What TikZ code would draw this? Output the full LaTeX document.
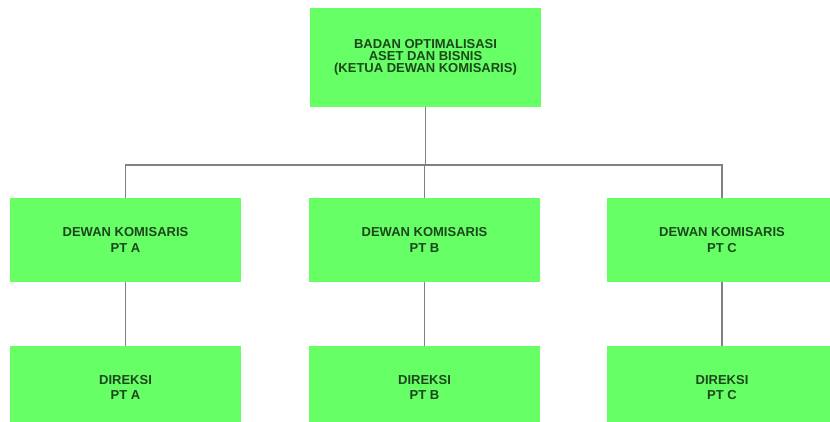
\documentclass[tikz,border=0pt]{standalone}
\usepackage{fontspec}
\setmainfont{Liberation Sans}
\begin{document}
\begin{tikzpicture}[x=1pt,y=1pt,
  box/.style={fill=boxgreen,draw=none,inner sep=0pt,minimum width=231pt,
    align=center,text=textgreen,font=\fontsize{13}{16.5}\selectfont\bfseries},
  link/.style={draw=linegray,line width=1.3pt}]
\definecolor{boxgreen}{RGB}{102,255,102}
\definecolor{textgreen}{RGB}{28,70,28}
\definecolor{linegray}{RGB}{128,128,128}
\useasboundingbox (0,0) rectangle (830,-422);
\clip (0,0) rectangle (830,-422);
\fill[white] (0,0) rectangle (830,-422);
\node[box,minimum height=99pt,font=\fontsize{13}{12.3}\selectfont\bfseries] (top) at (425.5,-57.5)
  {BADAN OPTIMALISASI\\ASET DAN BISNIS\\(KETUA DEWAN KOMISARIS)};
\node[box,minimum height=83pt] (m1) at (125.5,-240) {DEWAN KOMISARIS\\PT A};
\node[box,minimum height=83pt] (m2) at (424.5,-240) {DEWAN KOMISARIS\\PT B};
\node[box,minimum height=83pt] (m3) at (722,-240) {DEWAN KOMISARIS\\PT C};
\node[box,minimum height=83pt,font=\fontsize{13}{15.5}\selectfont\bfseries] (b1) at (125.5,-387.5) {DIREKSI\\PT A};
\node[box,minimum height=83pt,font=\fontsize{13}{15.5}\selectfont\bfseries] (b2) at (424.5,-387.5) {DIREKSI\\PT B};
\node[box,minimum height=83pt,font=\fontsize{13}{15.5}\selectfont\bfseries] (b3) at (722,-387.5) {DIREKSI\\PT C};
\coordinate (j) at (425.5,-165);
\draw[link] (top.south) -- (j);
\draw[link] (m1.north) |- (j) -| (m3.north);
\draw[link] (m2.north) -- (m2.north |- j);
\draw[link] (m1.south) -- (b1.north);
\draw[link] (m2.south) -- (b2.north);
\draw[link] (m3.south) -- (b3.north);
\end{tikzpicture}
\end{document}
